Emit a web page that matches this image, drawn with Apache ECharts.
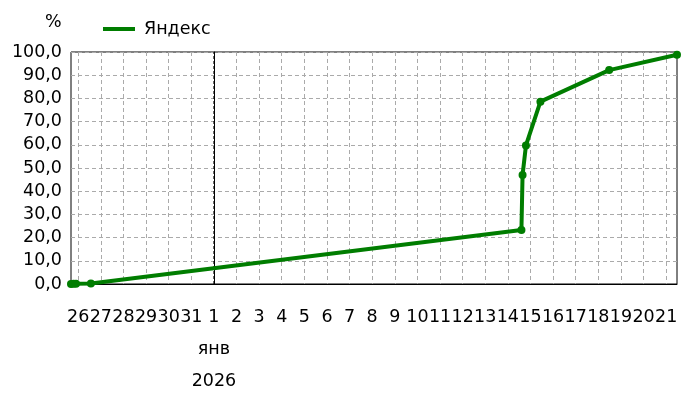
<!DOCTYPE html>
<html>
<head>
<meta charset="utf-8">
<script src="https://cdn.jsdelivr.net/npm/echarts@6/dist/echarts.min.js"></script>
<style>
html,body{margin:0;padding:0;background:#fff;}
#chart{width:700px;height:400px;}
</style>
</head>
<body>
<div id="chart"></div>
<script>
// x values are days counted from 1 Jan 2026 00:00 (negative = December 2025)
const seriesName = 'Яндекс';
const pointDays   = [-6.32, -6.21, -6.10, -5.44, 13.60, 13.65, 13.80, 14.44, 17.48, 20.48];
const pointValues = [0.0, 0.1, 0.1, 0.2, 23.3, 47.0, 59.7, 78.6, 92.2, 98.8];
const tickDays   = [-6,-5,-4,-3,-2,-1,0,1,2,3,4,5,6,7,8,9,10,11,12,13,14,15,16,17,18,19,20];
const tickLabels = ['26','27','28','29','30','31','1','2','3','4','5','6','7','8','9','10','11','12','13','14','15','16','17','18','19','20','21'];
const monthStartDay = 0;
const monthLabel = 'янв';
const yearLabel = '2026';
const yUnit = '%';
const yTickMin = 0, yTickMax = 100, yTickStep = 10;

const FONT = 'DejaVu Sans';
const FS = 17.5;
const GREEN = '#007d00';

const chart = echarts.init(document.getElementById('chart'), null, {renderer: 'canvas'});
chart.setOption({
  animation: false,
  backgroundColor: '#fff',
  textStyle: {fontFamily: FONT},
  title: {
    text: yUnit, left: 45, top: 13, padding: 0,
    textStyle: {fontFamily: FONT, fontSize: FS, fontWeight: 'normal', color: '#000'}
  },
  grid: {left: 71, right: 23, top: 52, bottom: 116, show: true, borderColor: '#000', borderWidth: 1},
  legend: {
    left: 103, top: 20, padding: 0,
    icon: 'rect', itemWidth: 32, itemHeight: 4,
    textStyle: {fontFamily: FONT, fontSize: FS, color: '#000', padding: [0, 0, 0, 4]},
    data: [seriesName]
  },
  xAxis: {
    type: 'value',
    min: 'dataMin', max: 'dataMax',
    axisLine: {show: true, lineStyle: {color: '#000', width: 1}},
    axisTick: {show: false, customValues: tickDays},
    splitLine: {show: true, lineStyle: {color: '#aaa', type: [4, 3], width: 1}},
    axisLabel: {
      customValues: tickDays,
      fontFamily: FONT, fontSize: FS, color: '#000',
      margin: 17, lineHeight: 32,
      formatter: function (v) {
        const i = tickDays.indexOf(Math.round(v));
        const t = i >= 0 ? tickLabels[i] : '';
        return Math.round(v) === monthStartDay ? t + '\n' + monthLabel + '\n' + yearLabel : t;
      }
    }
  },
  yAxis: {
    type: 'value',
    min: yTickMin, max: yTickMax, interval: yTickStep,
    axisLine: {show: true, lineStyle: {color: '#000', width: 1}},
    axisTick: {show: false},
    splitLine: {show: true, lineStyle: {color: '#aaa', type: [4, 3], width: 1}},
    axisLabel: {
      fontFamily: FONT, fontSize: FS, color: '#000', margin: 9,
      formatter: function (v) { return v.toFixed(1).replace('.', ','); }
    }
  },
  series: [{
    name: 'monthBoundary',
    type: 'line',
    data: [[monthStartDay, yTickMin], [monthStartDay, yTickMax]],
    showSymbol: false,
    symbol: 'none',
    silent: true,
    z: 1,
    lineStyle: {color: '#000', type: [3, 2], width: 1},
    itemStyle: {color: '#000'}
  }, {
    name: seriesName,
    type: 'line',
    data: pointDays.map((d, i) => [d, pointValues[i]]),
    color: GREEN,
    lineStyle: {width: 4, color: GREEN},
    itemStyle: {color: GREEN},
    symbol: 'circle',
    symbolSize: 8,
    showSymbol: true,
    clip: false,
    z: 3
  }]
});
</script>
</body>
</html>
